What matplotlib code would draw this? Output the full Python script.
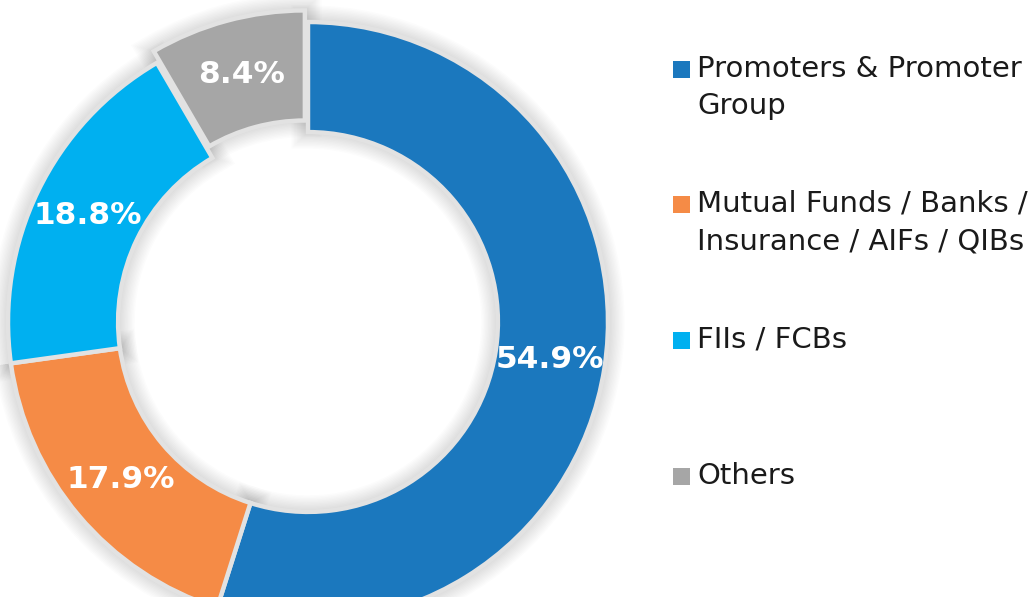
import matplotlib
matplotlib.use("Agg")
import matplotlib.pyplot as plt
from matplotlib.patches import Rectangle, Wedge
import numpy as np

categories = ["Promoters & Promoter\nGroup",
              "Mutual Funds / Banks /\nInsurance / AIFs / QIBs",
              "FIIs / FCBs",
              "Others"]
values = [54.9, 17.9, 18.8, 8.4]
colors = ["#1B78BE", "#F58B46", "#00B0F0", "#A6A6A6"]
explode = [0, 0, 0, 0.04]

W, H = 1032, 597
fig = plt.figure(figsize=(W / 100, H / 100), dpi=100)
fig.patch.set_facecolor("white")

# pie axes: center (308, 322) px from top, radius 300 px
cx, cy, R = 308, 322, 300
ax = fig.add_axes([(cx - R) / W, (H - cy - R) / H, 2 * R / W, 2 * R / H])
ax.set_xlim(-1, 1)
ax.set_ylim(-1, 1)
ax.set_aspect("equal")
ax.axis("off")

wedges, texts, autotexts = ax.pie(
    values, colors=colors, startangle=90, counterclock=False,
    explode=explode, radius=1.0,
    wedgeprops=dict(width=0.367, edgecolor="#e2e2e2", linewidth=3.2),
    autopct="%.1f%%", pctdistance=0.815,
    textprops=dict(color="white", fontsize=22.5, fontweight="bold",
                   family="DejaVu Sans"),
)
ax.set_xlim(-1, 1)
ax.set_ylim(-1, 1)

# soft shadow beneath each wedge
for w in wedges:
    w.set_clip_on(False)
    for lw in np.arange(2, 26, 2):
        sh = Wedge(w.center, w.r, w.theta1, w.theta2, width=w.width,
                   facecolor="none", edgecolor="black", linewidth=lw,
                   alpha=0.013, zorder=0, clip_on=False)
        ax.add_patch(sh)

for t in autotexts:
    t.set_ha("center")
    t.set_va("center")

# legend
sq = 17
lx, tx = 673, 697
centers = [69, 204, 340, 476]
for lab, col, yc in zip(categories, colors, centers):
    fig.patches.append(Rectangle((lx / W, (H - yc - sq / 2) / H), sq / W, sq / H,
                                 transform=fig.transFigure, facecolor=col,
                                 edgecolor="none"))
    fig.text(tx / W, (H - yc + 14) / H, lab, ha="left", va="top",
             fontsize=21, color="#1a1a1a", family="DejaVu Sans",
             linespacing=1.42)

fig.savefig("out.png", dpi=100, facecolor="white")
